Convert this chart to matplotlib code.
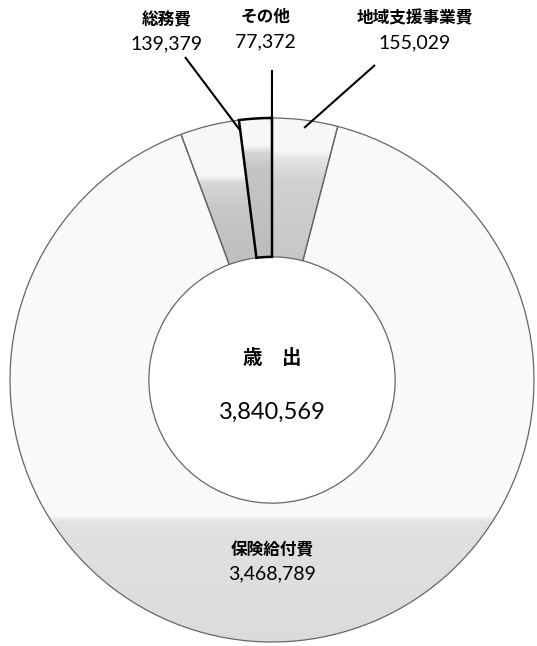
import numpy as np
import matplotlib
matplotlib.use("Agg")
import matplotlib.pyplot as plt

plt.rcParams['font.family'] = ['Noto Sans CJK JP', 'DejaVu Sans']

# slices, clockwise from 12 o'clock
labels = ['地域支援事業費', '保険給付費', '総務費', 'その他']
values = [155029, 3468789, 139379, 77372]
center_title = '歳　出'

# pixel geometry of the reference picture
CX, CY, R = 272, 380, 262
def px(x, y):
    return ((x - CX) / R, (CY - y) / R)

fig = plt.figure(figsize=(5.37, 6.46), dpi=100)
ax = fig.add_axes([0, 0, 1, 1])

wedges, _ = ax.pie(values, startangle=90, counterclock=False, radius=1,
                   wedgeprops=dict(width=0.53, edgecolor='#666666', linewidth=0.9),
                   colors=['none'] * len(values))

# scanned-looking vertical shading per slice: (pixel y breaks, gray levels)
shades = [
    ([150, 158, 180, 260], [0.97, 0.90, 0.82, 0.78]),
    ([515, 522, 530, 650], [0.98, 0.89, 0.88, 0.86]),
    ([175, 182, 207, 260], [0.97, 0.85, 0.78, 0.75]),
    ([145, 152, 168, 260], [0.97, 0.84, 0.77, 0.74]),
]
ys = np.linspace(1, -1, 600)
ypx = CY - ys * R
for w, (brk, lev) in zip(wedges, shades):
    g = np.interp(ypx, brk, lev)
    img = np.repeat(g[:, None, None], 3, axis=2)
    im = ax.imshow(img, extent=[-1, 1, -1, 1], origin='upper',
                   aspect='auto', interpolation='bilinear', zorder=1)
    im.set_clip_path(w)
    w.set_zorder(2)

wedges[3].set_edgecolor('black')
wedges[3].set_linewidth(1.8)
wedges[3].set_zorder(3)

# labels: (x, name y, value y) in reference pixels
label_pos = [(415, 18, 43), (272, 550, 574), (167, 20, 44), (265, 17, 42)]
for name, v, (x, yn, yv) in zip(labels, values, label_pos):
    ax.text(*px(x, yn), name, ha='center', va='center', fontsize=12,
            fontweight='bold', zorder=5)
    ax.text(*px(x, yv), f'{v:,}', ha='center', va='center', fontsize=14,
            family=['Lato', 'DejaVu Sans'], zorder=5)

# leader lines from the top labels into their slices
angles = []
a = 90.0
for v in values:
    span = 360.0 * v / sum(values)
    angles.append((a - span, a))
    a -= span
leaders = [
    (0, (375, 65), 0.5 * sum(angles[0]), 0.97),
    (2, (185, 57), angles[2][0], 0.96),
    (3, (272, 70), angles[3][0] + 0.02, 0.975),
]
for i, start, ang, r in leaders:
    x0, y0 = px(*start)
    t = np.deg2rad(ang)
    ax.plot([x0, r * np.cos(t)], [y0, r * np.sin(t)], color='black',
            lw=1.5, zorder=4, solid_capstyle='butt')

ax.text(*px(272, 358), center_title, ha='center', va='center', fontsize=14,
        fontweight='bold')
ax.text(*px(272, 412), f'{sum(values):,}', ha='center', va='center',
        fontsize=17, family=['Lato', 'DejaVu Sans'])

ax.set_xlim(px(0, 0)[0], px(537, 0)[0])
ax.set_ylim(px(0, 646)[1], px(0, 0)[1])
ax.set_aspect('equal')
ax.axis('off')

fig.savefig('out.png', dpi=100)
